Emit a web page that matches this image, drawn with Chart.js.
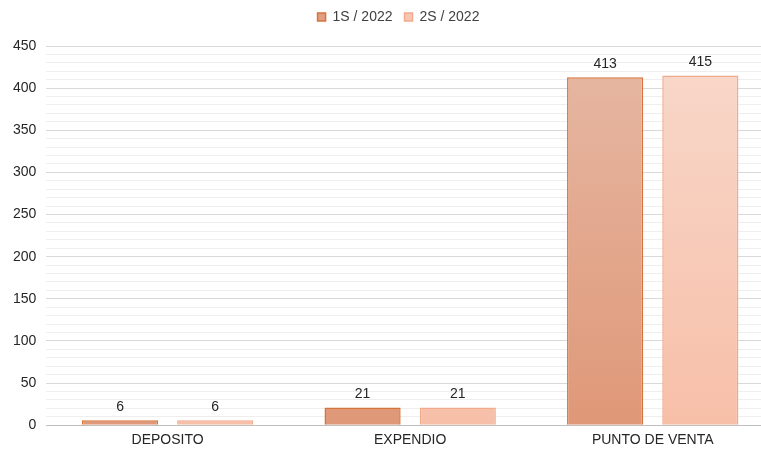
<!DOCTYPE html>
<html>
<head>
<meta charset="utf-8">
<script src="https://cdn.jsdelivr.net/npm/chart.js@4"></script>
<style>
  html, body { margin: 0; padding: 0; background: #fff; overflow: hidden; }
  #wrap { width: 761px; height: 450px; overflow: hidden; }
</style>
</head>
<body>
<div id="wrap"><canvas id="chart" width="776" height="450"></canvas></div>
<script>
// datos del gráfico
const categories = ['DEPOSITO', 'EXPENDIO', 'PUNTO DE VENTA'];
const seriesNames = ['1S / 2022', '2S / 2022'];
const values1S = [6, 21, 413];
const values2S = [6, 21, 415];

// gradiente vertical sobre el área del gráfico
function makeGradient(chart, top, bottom) {
    const area = chart.chartArea;
    if (!area) return bottom;
    const g = chart.ctx.createLinearGradient(0, area.top, 0, area.bottom);
    g.addColorStop(0, top);
    g.addColorStop(1, bottom);
    return g;
}

// etiquetas de valor encima de cada barra
const valueLabels = {
    id: 'valueLabels',
    afterDatasetsDraw(chart) {
        const ctx = chart.ctx;
        ctx.save();
        ctx.fillStyle = '#262626';
        ctx.font = '14px "Liberation Sans", Arial, sans-serif';
        ctx.textAlign = 'center';
        ctx.textBaseline = 'bottom';
        chart.data.datasets.forEach((ds, i) => {
            chart.getDatasetMeta(i).data.forEach((bar, j) => {
                ctx.fillText(ds.data[j], bar.x, bar.y - 6);
            });
        });
        ctx.restore();
    }
};

// mover la leyenda (arriba y un poco a la derecha)
const legendShift = {
    id: 'legendShift',
    afterLayout(chart) {
        const lg = chart.legend;
        if (!lg) return;
        lg.top -= 12; lg.bottom -= 12;
        lg.left += 10; lg.right += 10;
    }
};

const font = { family: '"Liberation Sans", Arial, sans-serif', size: 14 };

new Chart(document.getElementById('chart').getContext('2d'), {
    type: 'bar',
    data: {
        labels: categories,
        datasets: [{
            label: seriesNames[0],
            data: values1S,
            backgroundColor: c => makeGradient(c.chart, '#e6b8a4', '#df9878'),
            borderColor: '#d6733a',
            borderWidth: 1.5,
            categoryPercentage: 0.785,
            barPercentage: 0.80
        }, {
            label: seriesNames[1],
            data: values2S,
            backgroundColor: c => makeGradient(c.chart, '#f8d8cb', '#f7bfa8'),
            borderColor: '#f2aa8c',
            borderWidth: 1.5,
            categoryPercentage: 0.785,
            barPercentage: 0.80
        }]
    },
    options: {
        responsive: false,
        animation: false,
        layout: { padding: { left: 3, right: 2, top: 10, bottom: -6 } },
        plugins: {
            legend: {
                position: 'top',
                labels: {
                    font: font,
                    color: '#404040',
                    boxWidth: 8,
                    boxHeight: 8,
                    padding: 12,
                    generateLabels(chart) {
                        const fills = ['#e0a080', '#f8c6b2'];
                        return chart.data.datasets.map((ds, i) => ({
                            text: ds.label,
                            fillStyle: fills[i],
                            strokeStyle: ds.borderColor,
                            lineWidth: 1.5,
                            datasetIndex: i,
                            fontColor: '#404040'
                        }));
                    }
                }
            },
            tooltip: { enabled: false }
        },
        scales: {
            x: {
                grid: { display: false, drawTicks: false },
                border: { color: '#bfbfbf' },
                ticks: { font: font, color: '#262626', padding: 7 }
            },
            y: {
                min: 0,
                max: 450,
                border: { display: false },
                grid: {
                    drawTicks: false,
                    color: c => c.tick.value === 0 ? '#bfbfbf' : (c.tick.value % 50 === 0 ? '#d9d9d9' : '#eeeeee'),
                    lineWidth: 1
                },
                ticks: {
                    stepSize: 10,
                    autoSkip: false,
                    font: font,
                    color: '#262626',
                    padding: 10,
                    callback: v => v % 50 === 0 ? v : ''
                }
            }
        }
    },
    plugins: [valueLabels, legendShift]
});
</script>
</body>
</html>
